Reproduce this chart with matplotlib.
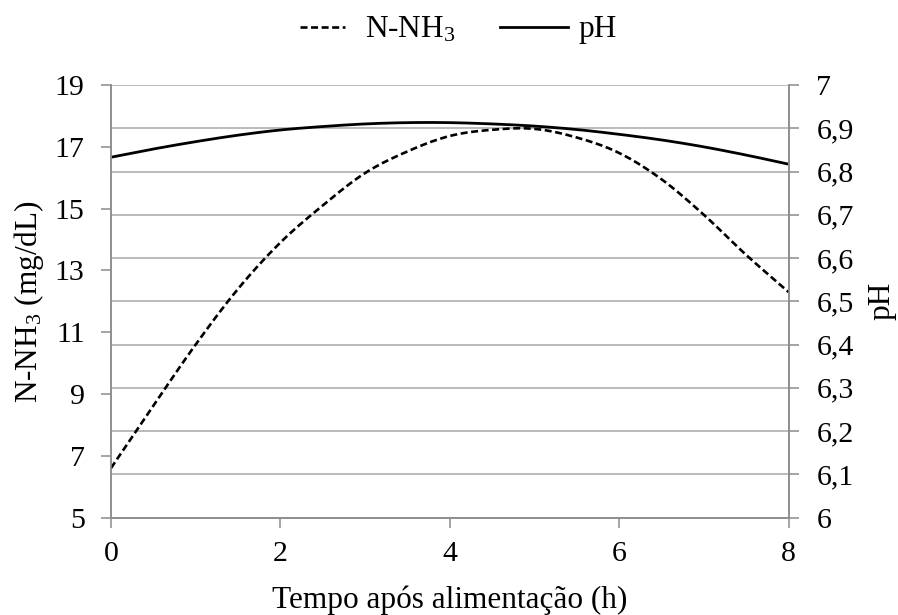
import matplotlib
matplotlib.use('Agg')
import numpy as np
import matplotlib.pyplot as plt
from matplotlib.ticker import FuncFormatter

# values (every half hour)
hours = [0, 0.5, 1, 1.5, 2, 2.5, 3, 3.5, 4, 4.5, 5, 5.5, 6, 6.5, 7, 7.5, 8]
nh3 = [6.6, 8.62, 10.6, 12.4, 13.9, 15.1, 16.15, 16.85, 17.35, 17.55, 17.58,
       17.3, 16.8, 15.95, 14.8, 13.5, 12.3]
ph = [6.833, 6.852, 6.869, 6.884, 6.896, 6.904, 6.910, 6.913, 6.913, 6.910,
      6.905, 6.897, 6.886, 6.873, 6.857, 6.838, 6.817]

GRAY = '#8c8c8c'
GRID = '#a8a8a8'
TICK_FS = 21.5
LABEL_FS = 22.5

plt.rcParams['font.family'] = ['Liberation Serif', 'DejaVu Serif']
plt.rcParams['mathtext.fontset'] = 'custom'
plt.rcParams['mathtext.rm'] = 'Liberation Serif'
plt.rcParams['mathtext.it'] = 'Liberation Serif:italic'


def smooth(x, y, n=12):
    # Catmull-Rom rendering of the read points, like a spreadsheet "smoothed line"
    x = np.asarray(x, float)
    y = np.asarray(y, float)
    px = np.concatenate([[2 * x[0] - x[1]], x, [2 * x[-1] - x[-2]]])
    py = np.concatenate([[2 * y[0] - y[1]], y, [2 * y[-1] - y[-2]]])
    xs, ys = [], []
    t = np.linspace(0, 1, n, endpoint=False)
    for i in range(1, len(px) - 2):
        for p, out in ((px, xs), (py, ys)):
            p0, p1, p2, p3 = p[i - 1], p[i], p[i + 1], p[i + 2]
            out.extend(0.5 * (2 * p1 + (-p0 + p2) * t
                              + (2 * p0 - 5 * p1 + 4 * p2 - p3) * t ** 2
                              + (-p0 + 3 * p1 - 3 * p2 + p3) * t ** 3))
    xs.append(x[-1])
    ys.append(y[-1])
    return xs, ys


def create():
    fig = plt.figure(figsize=(8.98, 6.15), dpi=100)
    ax = fig.add_axes([111 / 898, 97.5 / 615, 677.5 / 898, 432.5 / 615])
    ax2 = ax.twinx()

    sx, sy = smooth(hours, nh3)
    l1, = ax.plot(sx, sy, color='black', lw=1.9, linestyle=(0, (2.65, 1.35)))
    sx, sy = smooth(hours, ph)
    l2, = ax2.plot(sx, sy, color='black', lw=2.0)

    ax.set_xlim(0, 8)
    ax.set_ylim(5, 19)
    ax.set_xticks([0, 2, 4, 6, 8])
    ax.set_yticks(range(5, 20, 2))
    ax2.set_ylim(6, 7)
    ax2.set_yticks([6 + i / 10 for i in range(11)])
    ax2.yaxis.set_major_formatter(
        FuncFormatter(lambda v, p: f'{v:.1f}'.rstrip('0').rstrip('.').replace('.', ',')))

    ax2.grid(axis='y', color=GRID, lw=1.1)
    ax.set_zorder(ax2.get_zorder() + 1)
    ax.patch.set_visible(False)

    for a in (ax, ax2):
        a.spines['top'].set_visible(False)
        for s in ('left', 'right', 'bottom'):
            a.spines[s].set_color(GRAY)
            a.spines[s].set_linewidth(1.1)
        a.tick_params(color=GRAY, length=7, width=1.1, labelsize=TICK_FS)
    ax.tick_params(axis='y', pad=12)
    ax.tick_params(axis='x', pad=10)
    ax2.tick_params(axis='y', pad=13)

    ax.set_xlabel('Tempo após alimentação (h)', fontsize=LABEL_FS, labelpad=13)
    ax.set_ylabel('N-NH$_3$ (mg/dL)', fontsize=LABEL_FS, labelpad=6)
    ax2.set_ylabel('pH', fontsize=LABEL_FS, labelpad=10)

    em = LABEL_FS * 100 / 72
    fig.legend([l1], ['N-NH$_3$'], loc='center left',
               bbox_to_anchor=(300 / 898, 1 - 30 / 615), frameon=False,
               fontsize=LABEL_FS, borderpad=0, borderaxespad=0,
               handlelength=45 / em, handletextpad=20 / em)
    fig.legend([l2], ['pH'], loc='center left',
               bbox_to_anchor=(500 / 898, 1 - 30 / 615), frameon=False,
               fontsize=LABEL_FS, borderpad=0, borderaxespad=0,
               handlelength=68 / em, handletextpad=10 / em)

    fig.savefig('out.png', dpi=100)


if __name__ == "__main__":
    create()
